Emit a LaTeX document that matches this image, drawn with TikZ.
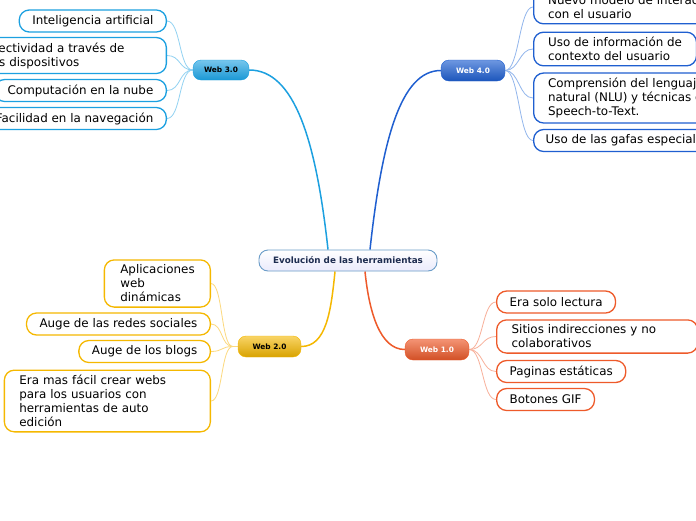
\documentclass[tikz,border=0pt]{standalone}
\usepackage{fontspec}
\setmainfont{DejaVu Sans}
\usetikzlibrary{calc,backgrounds}
\definecolor{cthree}{HTML}{1CA0E0}
\definecolor{cthreel}{HTML}{92D2F2}
\definecolor{cfour}{HTML}{1F5FD0}
\definecolor{cfourl}{HTML}{92B6EC}
\definecolor{ctwo}{HTML}{F5B800}
\definecolor{ctwol}{HTML}{FCD97F}
\definecolor{cone}{HTML}{EE5A2A}
\definecolor{conel}{HTML}{F8B09A}
\definecolor{cborder}{HTML}{6A9CC8}
\definecolor{ctext}{HTML}{1E2D50}
\begin{document}
\begin{tikzpicture}[x=1pt,y=-1pt,
  leaf/.style={draw, fill=white, rounded corners=10pt, line width=1.3pt, inner xsep=13pt, inner ysep=5pt, align=left, font=\fontsize{11.9}{14}\selectfont, minimum height=22pt, text=black},
  leafthree/.style={leaf, draw=cthree},
  leaffour/.style={leaf, draw=cfour, inner xsep=14.5pt},
  leaftwo/.style={leaf, draw=ctwo},
  leafone/.style={leaf, draw=cone},
  branch/.style={rounded corners=8pt, inner sep=0pt, font=\bfseries\fontsize{7.4}{9}\selectfont},
  lkthree/.style={draw=cthreel, line width=0.8pt},
  lkfour/.style={draw=cfourl, line width=0.8pt},
  lktwo/.style={draw=ctwol, line width=0.8pt},
  lkone/.style={draw=conel, line width=0.8pt},
]
\useasboundingbox (0,0) rectangle (696,520);
\clip (0,0) rectangle (696,520);

% central
\node[rounded corners=9pt, draw=cborder, line width=0.9pt, top color=white, bottom color=black!18!blue!8!white, minimum width=178pt, minimum height=21pt, inner sep=0pt, font=\bfseries\fontsize{8.8}{10}\selectfont, text=ctext] (c) at (348,260.5) {Evolución de las herramientas};

% branches
\node[branch, top color=cthree!60!white, bottom color=cthree!95!black, draw=cthree, minimum width=56pt, minimum height=20pt, text=black] (w3) at (221,70) {Web 3.0};
\node[branch, top color=cfour!65!white, bottom color=cfour!90!black, draw=cfour, minimum width=64pt, minimum height=21pt, text=white] (w4) at (473,70.5) {Web 4.0};
\node[branch, top color=ctwo!60!white, bottom color=ctwo!88!black, draw=ctwo, minimum width=63pt, minimum height=21pt, text=black] (w2) at (269.5,346.5) {Web 2.0};
\node[branch, top color=cone!65!white, bottom color=cone!88!black, draw=cone, minimum width=64pt, minimum height=21pt, text=white] (w1) at (437,349.5) {Web 1.0};

% Web 3.0 leaves
\node[leafthree, anchor=east] (l31) at (167,21) {Inteligencia artificial};
\node[leafthree, anchor=east, text width=178pt] (l32) at (167,55.5) {Conectividad a través de\\otros dispositivos};
\node[leafthree, anchor=east] (l33) at (167,90.5) {Computación en la nube};
\node[leafthree, anchor=east] (l34) at (167,118.5) {Facilidad en la navegación};

% Web 4.0 leaves
\node[leaffour, anchor=west] (l41) at (533,7) {Nuevo modelo de interacción\\con el usuario};
\node[leaffour, anchor=west] (l42) at (533,49) {Uso de información de\\contexto del usuario};
\node[leaffour, anchor=west] (l43) at (533,98) {Comprensión del lenguaje\\natural (NLU) y técnicas de\\Speech-to-Text.};
\node[leaffour, anchor=west, inner xsep=12pt] (l44) at (533,140.5) {Uso de las gafas especiales};

% Web 2.0 leaves
\node[leaftwo, anchor=east, text width=74pt, inner xsep=16pt] (l21) at (211,283.5) {Aplicaciones\\web\\dinámicas};
\node[leaftwo, anchor=east] (l22) at (211,324) {Auge de las redes sociales};
\node[leaftwo, anchor=east] (l23) at (211,351.5) {Auge de los blogs};
\node[leaftwo, anchor=east, text width=176pt, inner xsep=15pt] (l24) at (211,401) {Era mas fácil crear webs\\para los usuarios con\\herramientas de auto\\edición};

% Web 1.0 leaves
\node[leafone, anchor=west] (l11) at (496,302) {Era solo lectura};
\node[leafone, anchor=west, text width=171pt, inner xsep=15pt] (l12) at (496,336.5) {Sitios indirecciones y no\\colaborativos};
\node[leafone, anchor=west] (l13) at (496,371.5) {Paginas estáticas};
\node[leafone, anchor=west] (l14) at (496,399.5) {Botones GIF};

\begin{scope}[on background layer]
\fill[white] (0,0) rectangle (696,520);
% main connectors
\draw[cthree, line width=1.5pt] (w3.east) .. controls +(45,0) and +(-12,-110) .. ($(c.north)+(-20,0)$);
\draw[cfour, line width=1.5pt] (w4.west) .. controls +(-40,0) and +(12,-110) .. ($(c.north)+(22,0)$);
\draw[ctwo, line width=1.5pt] (w2.east) .. controls +(25,0) and +(-4,40) .. ($(c.south)+(-13,0)$);
\draw[cone, line width=1.5pt] (w1.west) .. controls +(-25,0) and +(4,40) .. ($(c.south)+(17,0)$);
% leaf connectors
\foreach \l in {l31,l32,l33,l34}
  \draw[lkthree] (w3.west) .. controls +(-14,0) and +(14,0) .. (\l.east);
\foreach \l in {l41,l42,l43,l44}
  \draw[lkfour] (w4.east) .. controls +(14,0) and +(-14,0) .. (\l.west);
\foreach \l in {l21,l22,l23,l24}
  \draw[lktwo] ($(w2.west)+(-5,0)$) .. controls +(-12,0) and +(12,0) .. (\l.east);
\draw[lktwo] ($(w2.west)+(-5,0)$) -- (w2.west);
\foreach \l in {l11,l12,l13,l14}
  \draw[lkone] (w1.east) .. controls +(14,0) and +(-14,0) .. (\l.west);
\end{scope}
\end{tikzpicture}
\end{document}
